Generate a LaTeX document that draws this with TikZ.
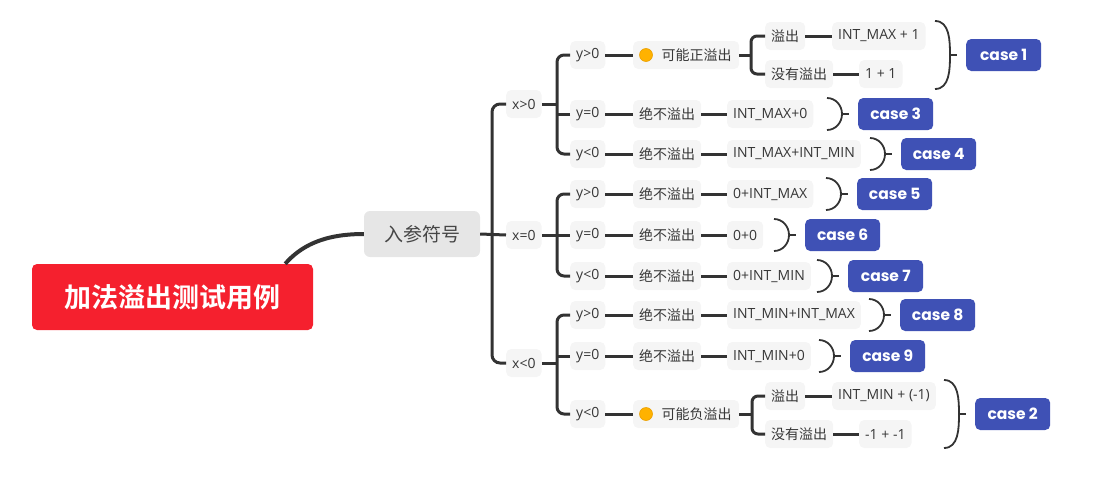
\documentclass[tikz,border=0pt]{standalone}
\usepackage{fontspec}
\setmainfont{Open Sans}
\newfontfamily\cjk{Noto Sans CJK SC}
\newfontfamily\cjkbold{Noto Sans CJK SC Bold}
\newfontfamily\casefont{Poppins}
\usetikzlibrary{calc}
\definecolor{ln}{RGB}{51,51,51}
\definecolor{bx}{RGB}{245,245,245}
\definecolor{tx}{RGB}{55,55,55}
\definecolor{rootred}{RGB}{245,32,46}
\definecolor{casebl}{RGB}{63,81,181}
\definecolor{dotc}{RGB}{255,178,0}
\definecolor{dotr}{RGB}{235,160,0}
\definecolor{subbx}{RGB}{230,230,230}
\newcommand\mybrk[2]{%
  \draw[brkt] ($(#1.west)+(-31,-#2)$) to[out=0,in=90] ($(#1.west)+(-16,0)$) to[out=-90,in=0] ($(#1.west)+(-31,#2)$);
  \draw[brkt] ($(#1.west)+(-16,0)$) -- ($(#1.west)+(-9,0)$);}
\begin{document}
\begin{tikzpicture}[x=1pt,y=-1pt,
  leaf/.style={fill=bx, rounded corners=5pt, text=tx, font=\fontsize{14}{16}\selectfont, inner xsep=6pt, inner ysep=0pt, minimum height=28pt, anchor=west},
  casebox/.style={fill=casebl, rounded corners=5pt, text=white, font=\casefont\bfseries\fontsize{15.5}{17}\selectfont, minimum width=75pt, minimum height=32pt, inner sep=0pt, anchor=west},
  conn/.style={draw=ln, line width=3pt},
  brkt/.style={draw=ln, line width=1.8pt},
]
\useasboundingbox (0,0) rectangle (1094,479);

% root and first level
\node[fill=rootred, rounded corners=5pt, minimum width=281pt, minimum height=66pt, text=white, font=\cjkbold\fontsize{27}{30}\selectfont] (root) at (172.5,297) {加法溢出测试用例};
\node[fill=subbx, rounded corners=6pt, minimum width=116pt, minimum height=46pt, text={rgb,255:red,70;green,70;blue,70}, font=\cjk\fontsize{19}{22}\selectfont] (rc) at (422,234) {入参符号};
\draw[ln, line width=4pt] ($(root.north east)+(-28,0)$) .. controls (300,247) and (322,234) .. (rc.west);

% x level
\node[leaf] (xg) at (506,104) {x>0};
\node[leaf] (xe) at (506,235) {x=0};
\node[leaf] (xl) at (506,363) {x<0};
\coordinate (ms) at (492,234);
\draw[conn, rounded corners=8pt] (xg.west) -| (ms) |- (xl.west);
\draw[conn] (rc.east) -- (xe.west);

% y level
\node[leaf] (a1) at (570,55) {y>0};
\node[leaf] (a2) at (570,114) {y=0};
\node[leaf] (a3) at (570,154) {y<0};
\node[leaf] (b1) at (570,194) {y>0};
\node[leaf] (b2) at (570,235) {y=0};
\node[leaf] (b3) at (570,276) {y<0};
\node[leaf] (c1) at (570,315) {y>0};
\node[leaf] (c2) at (570,356) {y=0};
\node[leaf] (c3) at (570,414) {y<0};

\coordinate (sa) at (557,104);
\coordinate (sb) at (557,235);
\coordinate (sc) at (557,363);
\draw[conn, rounded corners=7pt] (a1.west) -| (sa) |- (a3.west);
\draw[conn] (xg.east) -- (sa);
\draw[conn] (a2.west) -- (a2.west -| sa);
\draw[conn, rounded corners=7pt] (b1.west) -| (sb) |- (b3.west);
\draw[conn] (xe.east) -- (b2.west);
\draw[conn, rounded corners=7pt] (c1.west) -| (sc) |- (c3.west);
\draw[conn] (xl.east) -- (sc);
\draw[conn] (c2.west) -- (c2.west -| sc);

% third level
\node[leaf, minimum width=106pt] (a1m) at (633,55) {\cjk\hspace*{21pt}可能正溢出};
\fill[dotc, draw=dotr, line width=0.6pt] ($(a1m.west)+(13,0)$) circle (6.5pt);
\node[leaf] (a2m) at (633,114) {\cjk 绝不溢出};
\node[leaf] (a3m) at (633,154) {\cjk 绝不溢出};
\node[leaf] (b1m) at (633,194) {\cjk 绝不溢出};
\node[leaf] (b2m) at (633,235) {\cjk 绝不溢出};
\node[leaf] (b3m) at (633,276) {\cjk 绝不溢出};
\node[leaf] (c1m) at (633,315) {\cjk 绝不溢出};
\node[leaf] (c2m) at (633,356) {\cjk 绝不溢出};
\node[leaf, minimum width=106pt] (c3m) at (633,414) {\cjk\hspace*{21pt}可能负溢出};
\fill[dotc, draw=dotr, line width=0.6pt] ($(c3m.west)+(13,0)$) circle (6.5pt);
\foreach \n in {a1,a2,a3,b1,b2,b3,c1,c2,c3} \draw[conn] (\n.east) -- (\n m.west);

% leaves
\node[leaf] (a2l) at (727,114) {INT\_MAX+0};
\node[leaf] (a3l) at (727,154) {INT\_MAX+INT\_MIN};
\node[leaf] (b1l) at (727,194) {0+INT\_MAX};
\node[leaf] (b2l) at (727,235) {0+0};
\node[leaf] (b3l) at (727,276) {0+INT\_MIN};
\node[leaf] (c1l) at (727,315) {INT\_MIN+INT\_MAX};
\node[leaf] (c2l) at (727,356) {INT\_MIN+0};
\foreach \n in {a2,a3,b1,b2,b3,c1,c2} \draw[conn] (\n m.east) -- (\n l.west);

% sub-branches of a1m
\node[leaf] (ao) at (765,36) {\cjk 溢出};
\node[leaf] (an) at (765,74) {\cjk 没有溢出};
\node[leaf] (aol) at (832,36) {INT\_MAX + 1};
\node[leaf] (anl) at (859,74) {1 + 1};
\coordinate (sa1) at (751,55);
\draw[conn, rounded corners=6pt] (ao.west) -| (sa1) |- (an.west);
\draw[conn] (a1m.east) -- (sa1);
\draw[conn] (ao.east) -- (aol.west);
\draw[conn] (an.east) -- (anl.west);

% sub-branches of c3m
\node[leaf] (co) at (765,396) {\cjk 溢出};
\node[leaf] (cn) at (765,434) {\cjk 没有溢出};
\node[leaf] (col) at (832,396) {INT\_MIN + (-1)};
\node[leaf] (cnl) at (859,434) {-1 + -1};
\coordinate (sc1) at (752,414);
\draw[conn, rounded corners=6pt] (co.west) -| (sc1) |- (cn.west);
\draw[conn] (c3m.east) -- (sc1);
\draw[conn] (co.east) -- (col.west);
\draw[conn] (cn.east) -- (cnl.west);

% case boxes
\node[casebox] (k1) at (966,55) {case 1};
\node[casebox] (k3) at (858,114) {case 3};
\node[casebox] (k4) at (901,154) {case 4};
\node[casebox] (k5) at (857,194) {case 5};
\node[casebox] (k6) at (805,235) {case 6};
\node[casebox] (k7) at (848,276) {case 7};
\node[casebox] (k8) at (900,315) {case 8};
\node[casebox] (k9) at (850,356) {case 9};
\node[casebox] (k2) at (975,414) {case 2};

\mybrk{k1}{34}
\mybrk{k2}{34}
\foreach \k in {k3,k4,k5,k6,k7,k8,k9} {\mybrk{\k}{16}}
\end{tikzpicture}
\end{document}
